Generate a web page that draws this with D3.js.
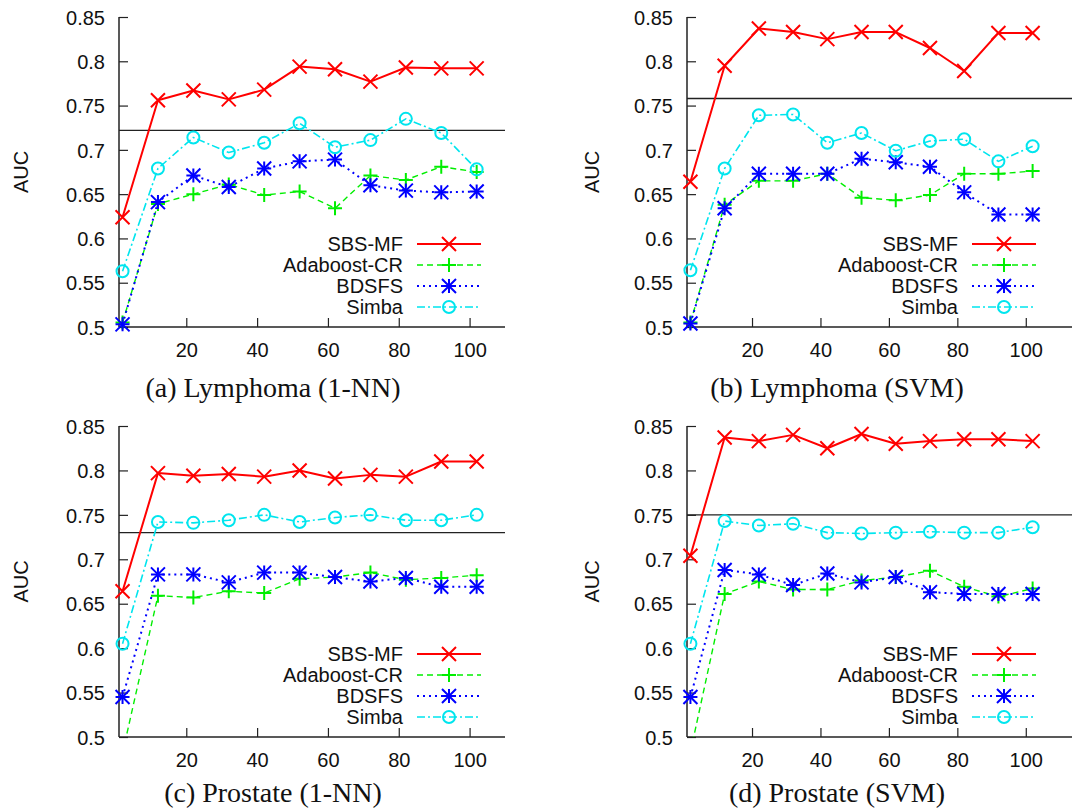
<!DOCTYPE html>
<html>
<head>
<meta charset="utf-8">
<script src="https://cdn.jsdelivr.net/npm/d3@7.9.0/dist/d3.min.js"></script>
<style>
  body { margin: 0; background: #fff; }
  svg { display: block; }
  .tick text, .lab { font-family: "Liberation Sans", Arial, Helvetica, sans-serif; font-size: 20px; fill: #111; }
  .cap { font-family: "Liberation Serif", "Times New Roman", serif; font-size: 28px; fill: #111; }
</style>
</head>
<body>
<div id="chart"></div>
<script>
// ---------- data ----------
const xValues = [2, 12, 22, 32, 42, 52, 62, 72, 82, 92, 102];
const xTicks = [20, 40, 60, 80, 100];
const yTicks = [0.5, 0.55, 0.6, 0.65, 0.7, 0.75, 0.8, 0.85];
const seriesNames = ["SBS-MF", "Adaboost-CR", "BDSFS", "Simba"];
const captions = ["(a) Lymphoma (1-NN)", "(b) Lymphoma (SVM)", "(c) Prostate (1-NN)", "(d) Prostate (SVM)"];
const baselines = [0.722, 0.758, 0.730, 0.750];

const lymphoma1nn = [
  [0.624, 0.756, 0.767, 0.757, 0.768, 0.794, 0.791, 0.777, 0.793, 0.792, 0.792],
  [0.505, 0.639, 0.650, 0.661, 0.649, 0.653, 0.634, 0.671, 0.666, 0.681, 0.675],
  [0.503, 0.641, 0.671, 0.658, 0.679, 0.687, 0.689, 0.660, 0.654, 0.652, 0.653],
  [0.563, 0.679, 0.714, 0.697, 0.708, 0.730, 0.703, 0.711, 0.735, 0.719, 0.678]
];
const lymphomaSvm = [
  [0.664, 0.795, 0.837, 0.833, 0.825, 0.833, 0.833, 0.815, 0.789, 0.832, 0.832],
  [0.505, 0.638, 0.665, 0.665, 0.673, 0.646, 0.643, 0.649, 0.673, 0.673, 0.676],
  [0.504, 0.634, 0.673, 0.673, 0.673, 0.690, 0.686, 0.681, 0.652, 0.627, 0.627],
  [0.564, 0.679, 0.739, 0.740, 0.708, 0.719, 0.699, 0.710, 0.712, 0.687, 0.704]
];
const prostate1nn = [
  [0.664, 0.797, 0.794, 0.796, 0.793, 0.800, 0.791, 0.795, 0.793, 0.810, 0.810],
  [0.482, 0.659, 0.657, 0.664, 0.662, 0.678, 0.680, 0.685, 0.677, 0.679, 0.682],
  [0.545, 0.683, 0.683, 0.674, 0.685, 0.685, 0.680, 0.675, 0.679, 0.669, 0.669],
  [0.605, 0.742, 0.741, 0.744, 0.750, 0.742, 0.747, 0.750, 0.744, 0.744, 0.750]
];
const prostateSvm = [
  [0.704, 0.837, 0.833, 0.840, 0.825, 0.841, 0.830, 0.833, 0.835, 0.835, 0.833],
  [0.483, 0.661, 0.675, 0.666, 0.666, 0.676, 0.680, 0.687, 0.669, 0.658, 0.667],
  [0.545, 0.688, 0.683, 0.671, 0.684, 0.674, 0.680, 0.663, 0.661, 0.661, 0.661],
  [0.605, 0.743, 0.738, 0.740, 0.730, 0.729, 0.730, 0.731, 0.730, 0.730, 0.736]
];
const panelData = [lymphoma1nn, lymphomaSvm, prostate1nn, prostateSvm];

// ---------- styles ----------
const colors = ["#ff0000", "#00ee00", "#0000ff", "#00e5ee"];
const dashes = [null, "6,4", "2,4", "8,3,2,3"];
const widths = [2, 1.4, 2, 1.6];
const markers = ["x", "plus", "star", "circle"];

const W = 1072, H = 810;
const panels = [
  { left: 119, right: 505, top: 17, bottom: 327, edge: 505, labX: 21, capX: 273, capDy: 70 },
  { left: 687, right: 1060, top: 17, bottom: 327, edge: 1072, labX: 592, capX: 837, capDy: 70 },
  { left: 119, right: 505, top: 426, bottom: 737, edge: 505, labX: 21, capX: 273, capDy: 65 },
  { left: 687, right: 1060, top: 426, bottom: 737, edge: 1072, labX: 592, capX: 837, capDy: 65 }
];

const svg = d3.select("#chart").append("svg").attr("width", W).attr("height", H);

function drawMarker(g, type, x, y, color) {
  const s = 7;
  const p = g.append("g").attr("stroke", color).attr("stroke-width", 2).attr("fill", "none");
  if (type === "x" || type === "star") {
    p.append("path").attr("d", `M${x - s},${y - s}L${x + s},${y + s}M${x - s},${y + s}L${x + s},${y - s}`);
  }
  if (type === "plus" || type === "star") {
    p.append("path").attr("d", `M${x - s},${y}L${x + s},${y}M${x},${y - s}L${x},${y + s}`);
  }
  if (type === "circle") {
    p.append("circle").attr("cx", x).attr("cy", y).attr("r", 6);
  }
}

panels.forEach((pn, i) => {
  const g = svg.append("g");
  const x = d3.scaleLinear().domain([1, 110]).range([pn.left, pn.right]);
  const y = d3.scaleLinear().domain([0.5, 0.85]).range([pn.bottom, pn.top]);

  // axes (inward ticks)
  const ya = g.append("g").attr("transform", `translate(${pn.left},0)`)
    .call(d3.axisLeft(y).tickValues(yTicks).tickFormat(d => String(d)).tickSize(-9).tickPadding(14));
  const xa = g.append("g").attr("transform", `translate(0,${pn.bottom})`)
    .call(d3.axisBottom(x).tickValues(xTicks).tickSize(-9).tickPadding(16));
  [ya, xa].forEach(a => {
    a.select(".domain").remove();
    a.selectAll(".tick line").attr("stroke", "#222").attr("stroke-width", 1.2);
    a.selectAll(".tick text").attr("font-size", null).attr("font-family", null);
  });
  ya.selectAll(".tick text").attr("dy", "0.36em");

  g.append("line").attr("x1", pn.left).attr("x2", pn.left).attr("y1", pn.top).attr("y2", pn.bottom)
    .attr("stroke", "#222").attr("stroke-width", 1.5);
  g.append("line").attr("x1", pn.left).attr("x2", pn.edge).attr("y1", pn.bottom).attr("y2", pn.bottom)
    .attr("stroke", "#222").attr("stroke-width", 1.5);

  // baseline
  g.append("line").attr("x1", pn.left).attr("x2", pn.edge)
    .attr("y1", y(baselines[i])).attr("y2", y(baselines[i]))
    .attr("stroke", "#222").attr("stroke-width", 1.4);

  // clip
  const cid = "clip" + i;
  svg.append("clipPath").attr("id", cid).append("rect")
    .attr("x", pn.left).attr("y", pn.top - 10).attr("width", pn.edge - pn.left).attr("height", pn.bottom - pn.top + 10);

  const line = d3.line().x((d, k) => x(xValues[k])).y(d => y(d));
  panelData[i].forEach((vals, s) => {
    g.append("path").attr("d", line(vals)).attr("clip-path", `url(#${cid})`)
      .attr("fill", "none").attr("stroke", colors[s]).attr("stroke-width", widths[s])
      .attr("stroke-dasharray", dashes[s]).attr("stroke-linejoin", "round");
    vals.forEach((v, k) => {
      if (v >= 0.5) drawMarker(g, markers[s], x(xValues[k]), y(v), colors[s]);
    });
  });

  // legend
  seriesNames.forEach((name, s) => {
    const ly = pn.bottom - 83 + s * 21;
    g.append("text").attr("class", "lab").attr("x", pn.right - 102).attr("y", ly)
      .attr("dy", "0.36em").attr("text-anchor", "end").text(name);
    g.append("line").attr("x1", pn.right - 88).attr("x2", pn.right - 24).attr("y1", ly).attr("y2", ly)
      .attr("stroke", colors[s]).attr("stroke-width", widths[s]).attr("stroke-dasharray", dashes[s]);
    drawMarker(g, markers[s], pn.right - 56, ly, colors[s]);
  });

  g.append("text").attr("class", "lab").attr("transform", `translate(${pn.labX},${(pn.top + pn.bottom) / 2}) rotate(-90)`)
    .attr("text-anchor", "middle").attr("dy", "0.36em").text("AUC");

  g.append("text").attr("class", "cap").attr("x", pn.capX).attr("y", pn.bottom + pn.capDy)
    .attr("text-anchor", "middle").text(captions[i]);
});
</script>
</body>
</html>
